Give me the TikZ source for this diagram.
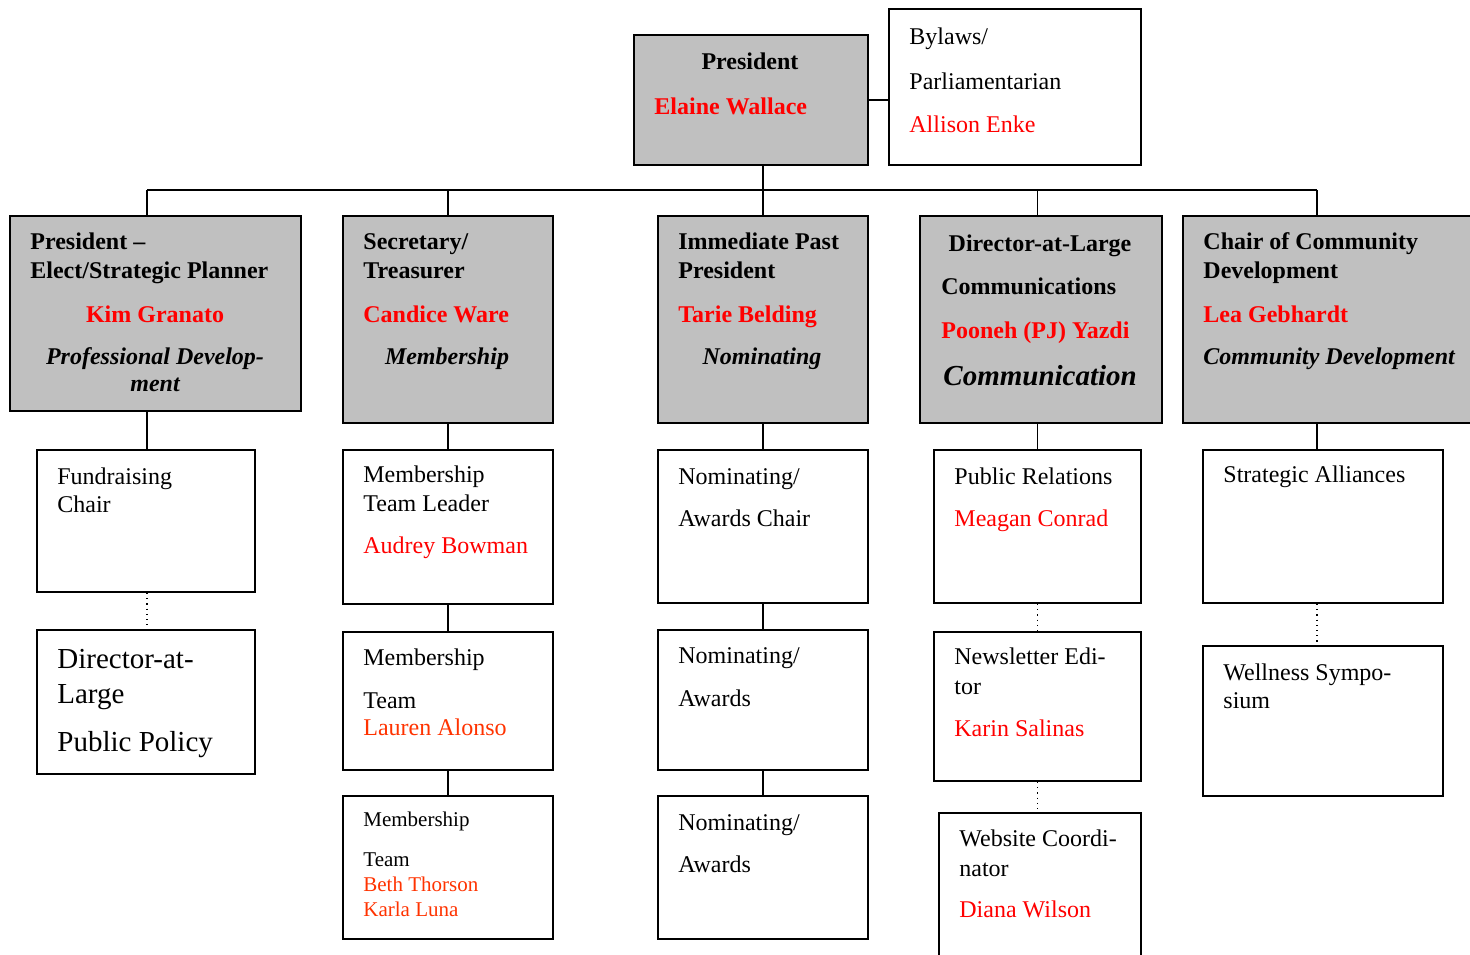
\documentclass[tikz,border=0pt]{standalone}
\usepackage{fontspec}
\setmainfont{Liberation Serif}
\usetikzlibrary{fit}

\definecolor{boxgray}{HTML}{C0C0C0}
\definecolor{namered}{HTML}{FF0000}
\definecolor{teamred}{HTML}{FF3300}

\tikzset{
  office/.style={draw, line width=1.2pt, fill=boxgray, inner sep=0pt},
  post/.style={draw, line width=1pt, fill=white, inner sep=0pt},
  link/.style={line width=0.8pt},
  dots/.style={dotted, line width=0.6pt},
  txt/.style={anchor=base west, inner sep=0pt, yshift=-0.5pt, font=\fontsize{12}{14}\selectfont},
  ctxt/.style={txt, anchor=base},
  bold/.style={font=\fontsize{12}{14}\selectfont\bfseries},
  boldit/.style={font=\fontsize{12}{14}\selectfont\bfseries\itshape},
  bigtxt/.style={font=\fontsize{14.5}{17}\selectfont},
  smalltxt/.style={font=\fontsize{10.5}{12}\selectfont},
  person/.style={text=namered},
  teamer/.style={text=teamred},
}

\begin{document}
\begin{tikzpicture}[x=0.5pt, y=-0.5pt]
  \useasboundingbox (0,0) rectangle (1470,954);

  % Top
  \node[office, fit={(634,35) (868,165)}] (pres) {};
  \node[post, fit={(889,9) (1141,165)}] (bylaws) {};

  % Board
  \node[office, fit={(10,216) (301,411)}] (pel) {};
  \node[office, fit={(343,216) (553,423)}] (sect) {};
  \node[office, fit={(658,216) (868,423)}] (ipp) {};
  \node[office, fit={(920,216) (1162,423)}] (dal) {};
  \node[office, fit={(1183,216) (1490,423)}] (cch) {};

  % Committees
  \node[post, fit={(37,450) (255,592)}] (fund) {};
  \node[post, fit={(37,630) (255,774)}] (pubpol) {};
  \node[post, fit={(343,450) (553,604)}] (mem1) {};
  \node[post, fit={(343,632) (553,770)}] (mem2) {};
  \node[post, fit={(343,796) (553,939)}] (mem3) {};
  \node[post, fit={(658,450) (868,603)}] (nom1) {};
  \node[post, fit={(658,630) (868,770)}] (nom2) {};
  \node[post, fit={(658,796) (868,939)}] (nom3) {};
  \node[post, fit={(934,450) (1141,603)}] (pr) {};
  \node[post, fit={(934,632) (1141,781)}] (news) {};
  \node[post, fit={(939,813) (1141,975)}] (web) {};
  \node[post, fit={(1203,450) (1443,603)}] (sa) {};
  \node[post, fit={(1203,646) (1443,796)}] (well) {};

  % Connectors
  \coordinate (busL) at (147,190);
  \coordinate (busR) at (1317,190);
  \draw[link] (pres.east) -- (pres.east -| bylaws.west);
  \draw[link] (ipp.north |- pres.south) -- (ipp.north);
  \draw[link] (busL) -- (busR);
  \draw[link] (busL) -- (busL |- pel.north);
  \draw[link] (sect.north |- busL) -- (sect.north);
  \draw[link] (pr.north |- busL) -- (pr.north |- dal.north);
  \draw[link] (busR) -- (busR |- cch.north);

  \draw[link] (busL |- pel.south) -- (busL |- fund.north);
  \draw[link] (sect.south) -- (mem1.north);
  \draw[link] (mem1.south) -- (mem2.north);
  \draw[link] (mem2.south) -- (mem3.north);
  \draw[link] (ipp.south) -- (nom1.north);
  \draw[link] (nom1.south) -- (nom2.north);
  \draw[link] (nom2.south) -- (nom3.north);
  \draw[link] (pr.north |- dal.south) -- (pr.north);
  \draw[link] (busR |- cch.south) -- (busR |- sa.north);

  \draw[dots] (busL |- fund.south) -- (busL |- pubpol.north);
  \draw[dots] (pr.south) -- (pr.south |- news.north);
  \draw[dots] (pr.south |- news.south) -- (pr.south |- web.north);
  \draw[dots] (busR |- sa.south) -- (busR |- well.north);

  % Texts: top
  \node[ctxt, bold] (pres-t1) at (750,68) {President};
  \node[txt, bold, person] (pres-t2) at (654,113) {Elaine Wallace};
  \node[txt] (bylaws-t1) at (909,43) {Bylaws/};
  \node[txt] (bylaws-t2) at (909,88) {Parliamentarian};
  \node[txt, person] (bylaws-t3) at (909,131) {Allison Enke};

  % Texts: board
  \node[txt, bold] (pel-t1) at (30,248) {President –};
  \node[txt, bold] (pel-t2) at (30,277) {Elect/Strategic Planner};
  \node[ctxt, bold, person] (pel-t3) at (155,321) {Kim Granato};
  \node[ctxt, boldit] (pel-t4) at (155,363) {Professional Develop-};
  \node[ctxt, boldit] (pel-t5) at (155,390) {ment};

  \node[txt, bold] (sect-t1) at (363,248) {Secretary/};
  \node[txt, bold] (sect-t2) at (363,277) {Treasurer};
  \node[txt, bold, person] (sect-t3) at (363,321) {Candice Ware};
  \node[ctxt, boldit] (sect-t4) at (447,363) {Membership};

  \node[txt, bold] (ipp-t1) at (678,248) {Immediate Past};
  \node[txt, bold] (ipp-t2) at (678,277) {President};
  \node[txt, bold, person] (ipp-t3) at (678,321) {Tarie Belding};
  \node[ctxt, boldit] (ipp-t4) at (762,363) {Nominating};

  \node[ctxt, bold] (dal-t1) at (1040,250) {Director-at-Large};
  \node[txt, bold] (dal-t2) at (941,293) {Communications};
  \node[txt, bold, person] (dal-t3) at (941,337) {Pooneh (PJ) Yazdi};
  \node[txt, font=\fontsize{14.5}{17}\selectfont\bfseries\itshape] (dal-t4) at (943,384) {Communication};

  \node[txt, bold] (cch-t1) at (1203,248) {Chair of Community};
  \node[txt, bold] (cch-t2) at (1203,277) {Development};
  \node[txt, bold, person] (cch-t3) at (1203,321) {Lea Gebhardt};
  \node[txt, boldit] (cch-t4) at (1203,363) {Community Development};

  % Texts: committees
  \node[txt] (fund-t1) at (57,483) {Fundraising};
  \node[txt] (fund-t2) at (57,511) {Chair};
  \node[txt, bigtxt] (pubpol-t1) at (57,667) {Director-at-};
  \node[txt, bigtxt] (pubpol-t2) at (57,702) {Large};
  \node[txt, bigtxt] (pubpol-t3) at (57,750) {Public Policy};

  \node[txt] (mem1-t1) at (363,481) {Membership};
  \node[txt] (mem1-t2) at (363,510) {Team Leader};
  \node[txt, person] (mem1-t3) at (363,552) {Audrey Bowman};
  \node[txt] (mem2-t1) at (363,664) {Membership};
  \node[txt] (mem2-t2) at (363,707) {Team};
  \node[txt, teamer] (mem2-t3) at (363,734) {Lauren Alonso};
  \node[txt, smalltxt] (mem3-t1) at (363,825) {Membership};
  \node[txt, smalltxt] (mem3-t2) at (363,865) {Team};
  \node[txt, smalltxt, teamer] (mem3-t3) at (363,890) {Beth Thorson};
  \node[txt, smalltxt, teamer] (mem3-t4) at (363,915) {Karla Luna};

  \node[txt] (nom1-t1) at (678,483) {Nominating/};
  \node[txt] (nom1-t2) at (678,525) {Awards Chair};
  \node[txt] (nom2-t1) at (678,662) {Nominating/};
  \node[txt] (nom2-t2) at (678,705) {Awards};
  \node[txt] (nom3-t1) at (678,829) {Nominating/};
  \node[txt] (nom3-t2) at (678,871) {Awards};

  \node[txt] (pr-t1) at (954,483) {Public Relations};
  \node[txt, person] (pr-t2) at (954,525) {Meagan Conrad};
  \node[txt] (news-t1) at (954,663) {Newsletter Edi-};
  \node[txt] (news-t2) at (954,693) {tor};
  \node[txt, person] (news-t3) at (954,735) {Karin Salinas};
  \node[txt] (web-t1) at (959,845) {Website Coordi-};
  \node[txt] (web-t2) at (959,875) {nator};
  \node[txt, person] (web-t3) at (959,916) {Diana Wilson};

  \node[txt] (sa-t1) at (1223,481) {Strategic Alliances};
  \node[txt] (well-t1) at (1223,679) {Wellness Sympo-};
  \node[txt] (well-t2) at (1223,707) {sium};
\end{tikzpicture}
\end{document}
